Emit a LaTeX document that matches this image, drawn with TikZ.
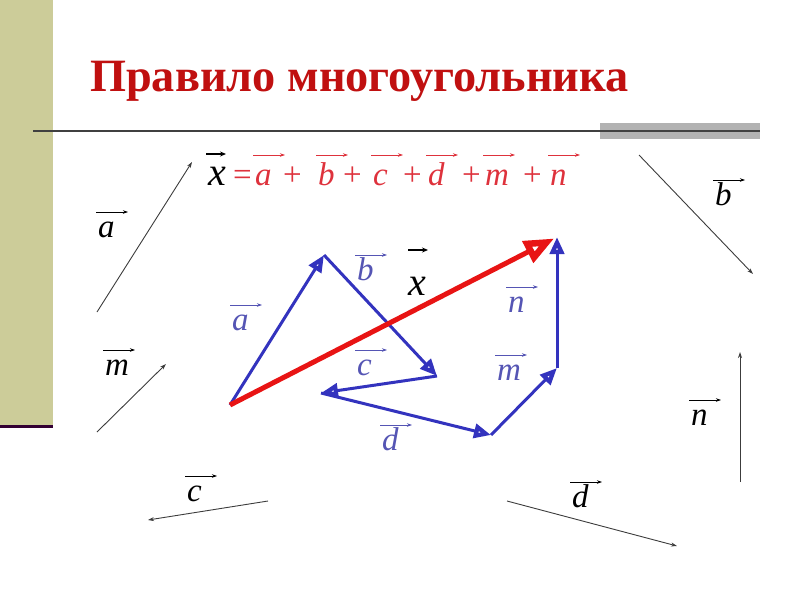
\documentclass[tikz,border=0pt]{standalone}
\usepackage{fontspec}
\setmainfont{Liberation Serif}
\usetikzlibrary{arrows.meta}
\definecolor{sbolive}{RGB}{204,204,153}
\definecolor{sbplum}{RGB}{51,0,51}
\definecolor{sbtitle}{RGB}{192,16,16}
\definecolor{sbred}{RGB}{232,20,20}
\definecolor{sbblue}{RGB}{51,51,190}
\definecolor{sblabel}{RGB}{85,85,180}
\definecolor{sbpink}{RGB}{222,50,60}
\definecolor{sbgray}{RGB}{60,60,60}
\tikzset{
  lbl/.style={inner sep=0pt, anchor=base west, font=\fontsize{33}{36}\selectfont\itshape},
  vbar/.style={-{Stealth[length=5pt,width=3.5pt]}, line width=0.7pt},
  freevec/.style={draw=sbgray, line width=0.9pt, -{Stealth[length=6pt,width=4pt]}},
  polyvec/.style={draw=sbblue, line width=3pt, -{Triangle[open, length=17pt, width=14pt, line width=4.2pt]}},
  sumvec/.style={draw=sbred, line width=5pt, -{Triangle[open, length=30pt, width=23pt, line width=6.5pt]}},
}
% letter with a little arrow over it: [rise]{name}{base point}{letter}{colour}
\newcommand{\vlab}[5][25]{%
  \node[lbl, text=#5] (#2) at (#3) {#4};
  \draw[vbar, draw=#5] ([shift={(-2,-#1)}]#2.base west) -- ++(32,0);
}

\begin{document}
\begin{tikzpicture}[x=1pt, y=-1pt]
\useasboundingbox (0,0) rectangle (800,600);
% slide frame
\fill[sbolive] (0,0) rectangle (53,425);
\draw[sbplum, line width=3pt] (0,426) -- (53,426);
\fill[black!30] (600,123) rectangle (760,139);
\draw[black!75, line width=1.8pt] (33,131) -- (760,131);
\node[anchor=base west, inner sep=0pt, text=sbtitle, font=\fontsize{46.3}{50}\selectfont\bfseries] (title) at (90,91) {Правило многоугольника};

% formula
\node[lbl, font=\fontsize{40}{42}\selectfont\itshape] (fx) at (208,185) {x};
\draw[black, line width=1.2pt, -{Stealth[length=6pt,width=5pt]}] ([shift={(-2,-31)}]fx.base west) -- ++(20,0);
\node[lbl, font=\fontsize{33}{36}\selectfont, text=sbpink] (eq) at (233,185) {=};
\vlab[30]{fa}{255,185}{a}{sbpink}
\node[lbl, font=\fontsize{33}{36}\selectfont, text=sbpink] (p1) at (283,185) {+};
\vlab[30]{fb}{318,185}{b}{sbpink}
\node[lbl, font=\fontsize{33}{36}\selectfont, text=sbpink] (p2) at (343,185) {+};
\vlab[30]{fc}{373,185}{c}{sbpink}
\node[lbl, font=\fontsize{33}{36}\selectfont, text=sbpink] (p3) at (403,185) {+};
\vlab[30]{fd}{428,185}{d}{sbpink}
\node[lbl, font=\fontsize{33}{36}\selectfont, text=sbpink] (p4) at (462,185) {+};
\vlab[30]{fm}{485,185}{m}{sbpink}
\node[lbl, font=\fontsize{33}{36}\selectfont, text=sbpink] (p5) at (523,185) {+};
\vlab[30]{fn}{550,185}{n}{sbpink}

% free vectors
\coordinate (a0) at (97,312);  \coordinate (a1) at (192,162);
\coordinate (m0) at (97,432);  \coordinate (m1) at (166,364);
\coordinate (b0) at (639,155); \coordinate (b1) at (753,274);
\coordinate (c0) at (268,501); \coordinate (c1) at (148,520);
\coordinate (d0) at (507,501); \coordinate (d1) at (677,546);
\coordinate (n0) at (740,482); \coordinate (n1) at (740,352);
\draw[freevec] (a0) -- (a1);
\draw[freevec] (m0) -- (m1);
\draw[freevec] (b0) -- (b1);
\draw[freevec] (c0) -- (c1);
\draw[freevec] (d0) -- (d1);
\draw[freevec] (n0) -- (n1);
\vlab{la}{98,237}{a}{black}
\vlab{lm}{105,375}{m}{black}
\vlab{lb}{715,205}{b}{black}
\vlab{lc}{187,501}{c}{black}
\vlab{ld}{572,507}{d}{black}
\vlab{ln}{691,425}{n}{black}

% polygon
\coordinate (O) at (230,405);
\coordinate (A) at (324,255);
\coordinate (B) at (437,376);
\coordinate (C) at (321,393);
\coordinate (D) at (491,435);
\coordinate (M) at (557,368);
\coordinate (N) at (557,237);
\draw[polyvec] (O) -- (A);
\draw[polyvec] (A) -- (B);
\draw[polyvec] (B) -- (C);
\draw[polyvec] (C) -- (D);
\draw[polyvec] (D) -- (M);
\draw[polyvec] (M) -- (N);
\draw[sumvec, shorten >=3pt] (O) -- (N);
\vlab{ba}{232,330}{a}{sblabel}
\vlab{bb}{357,280}{b}{sblabel}
\vlab{bc}{357,375}{c}{sblabel}
\vlab{bd}{382,450}{d}{sblabel}
\vlab{bm}{497,380}{m}{sblabel}
\vlab{bn}{508,312}{n}{sblabel}
\node[lbl, font=\fontsize{40}{42}\selectfont\itshape] (bx) at (408,295) {x};
\draw[black, line width=1.4pt, -{Stealth[length=6pt,width=5pt]}] ([shift={(0,-45)}]bx.base west) -- ++(20,0);
\end{tikzpicture}
\end{document}
